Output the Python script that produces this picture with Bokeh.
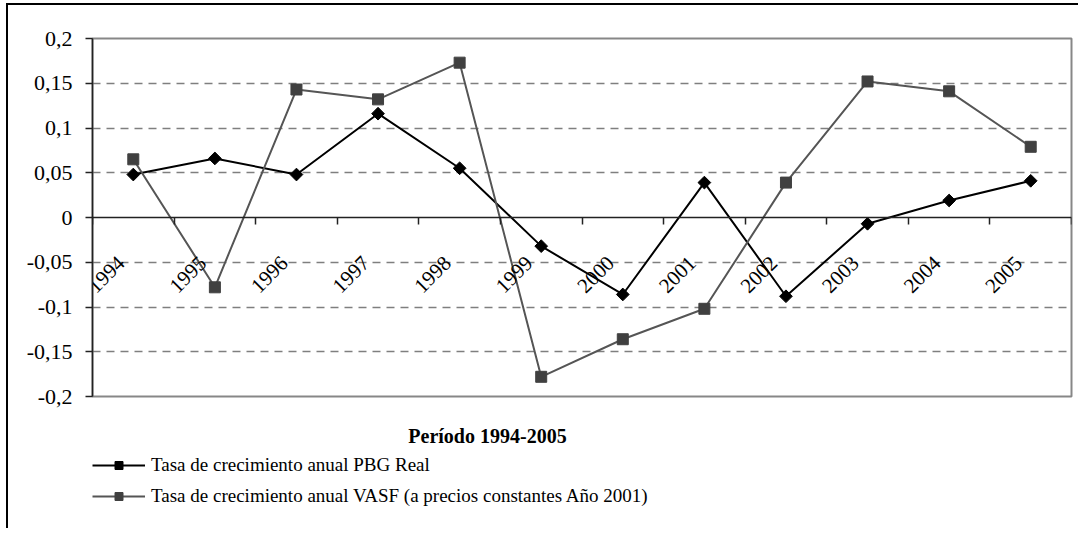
import math
from bokeh.plotting import figure
from bokeh.layouts import column
from bokeh.models import (Range1d, FixedTicker, CustomJSTickFormatter, Legend,
                          LegendItem, Label)
from bokeh.embed import file_html
from bokeh.resources import INLINE

# ---- data ----
years = ["1994", "1995", "1996", "1997", "1998", "1999",
         "2000", "2001", "2002", "2003", "2004", "2005"]
pbg_real = [0.048, 0.066, 0.048, 0.116, 0.055, -0.032,
            -0.086, 0.039, -0.088, -0.007, 0.019, 0.041]
vasf = [0.065, -0.078, 0.143, 0.132, 0.173, -0.178,
        -0.136, -0.102, 0.039, 0.152, 0.141, 0.079]
y_ticks = [-0.2, -0.15, -0.1, -0.05, 0.0, 0.05, 0.1, 0.15, 0.2]
grid_ticks = [-0.15, -0.1, -0.05, 0.05, 0.1, 0.15]
label_pbg = "Tasa de crecimiento anual PBG Real"
label_vasf = "Tasa de crecimiento anual VASF (a precios constantes Año 2001)"
x_title = "Período 1994-2005"

FONT = "Liberation Serif"
n = len(years)
xs = list(range(n))

# ---------------- main chart ----------------
p = figure(width=1070, height=407, output_backend="svg", toolbar_location=None,
           x_range=Range1d(-0.5, n - 0.5), y_range=Range1d(y_ticks[0], y_ticks[-1]),
           min_border_left=84, min_border_right=7, min_border_top=33,
           min_border_bottom=16)
p.background_fill_color = "white"
p.border_fill_color = "white"
p.outline_line_color = "#878787"
p.outline_line_width = 2

p.xgrid.visible = False
p.ygrid.ticker = FixedTicker(ticks=grid_ticks)
p.ygrid.grid_line_color = "#7f7f7f"
p.ygrid.grid_line_dash = "8 6"
p.ygrid.grid_line_width = 1.3

yax = p.yaxis[0]
yax.ticker = FixedTicker(ticks=y_ticks)
yax.formatter = CustomJSTickFormatter(
    code="return String(Math.round(tick*100)/100).replace('.', ',');")
yax.major_label_text_font = FONT
yax.major_label_text_font_size = "22px"
yax.major_label_text_color = "black"
yax.axis_line_color = "#222222"
yax.axis_line_width = 1.5
yax.major_tick_line_color = "#222222"
yax.major_tick_line_width = 1.5
yax.major_tick_out = 7
yax.major_tick_in = 0
yax.major_label_standoff = 13
yax.minor_tick_line_color = None

xax = p.xaxis[0]
xax.fixed_location = 0
xax.ticker = FixedTicker(ticks=[i - 0.15 for i in xs],
                         minor_ticks=[i - 0.5 for i in range(n + 1)])
xax.formatter = CustomJSTickFormatter(
    args=dict(labels=years),
    code="const i = Math.round(tick); return (i >= 0 && i < labels.length) ? labels[i] : '';")
xax.major_label_orientation = math.pi / 4
xax.major_label_text_font = FONT
xax.major_label_text_font_size = "21px"
xax.major_label_text_color = "black"
xax.major_tick_out = 0
xax.major_tick_in = 0
xax.major_tick_line_color = None
xax.major_label_standoff = 35
xax.minor_tick_out = 7
xax.minor_tick_in = 0
xax.minor_tick_line_color = "#222222"
xax.minor_tick_line_width = 1.5
xax.axis_line_color = "#222222"
xax.axis_line_width = 1.5

PBG_STYLE = dict(line_color="black", line_width=2)
PBG_MARK = dict(marker="square", angle=math.pi / 4, size=9,
                fill_color="black", line_color="black")
VASF_STYLE = dict(line_color="#555555", line_width=2)
VASF_MARK = dict(marker="square", size=11, fill_color="#404040", line_color="#404040")

p.line(xs, pbg_real, **PBG_STYLE)
p.scatter(xs, pbg_real, **PBG_MARK)
p.line(xs, vasf, **VASF_STYLE)
p.scatter(xs, vasf, **VASF_MARK)

# ---------------- legend / title strip ----------------
p2 = figure(width=1070, height=116, output_backend="svg", toolbar_location=None,
            x_axis_type=None, y_axis_type=None,
            x_range=Range1d(1000, 1001), y_range=Range1d(1000, 1001),
            min_border=0)
p2.outline_line_color = None
p2.background_fill_color = "white"
p2.border_fill_color = "white"
p2.grid.visible = False

l1 = p2.line(xs, pbg_real, **PBG_STYLE)
s1 = p2.scatter(xs, pbg_real, **PBG_MARK)
l2 = p2.line(xs, vasf, **VASF_STYLE)
s2 = p2.scatter(xs, vasf, **VASF_MARK)

p2.add_layout(Label(text=x_title, x=395, y=93, x_units="screen", y_units="screen",
                    text_align="center", text_baseline="middle", text_font=FONT,
                    text_font_size="20px", text_font_style="bold",
                    text_color="black"))

legend = Legend(items=[LegendItem(label=label_pbg, renderers=[l1, s1]),
                       LegendItem(label=label_vasf, renderers=[l2, s2])],
                location=(0, 21), orientation="vertical", margin=0, padding=5,
                border_line_color=None, background_fill_alpha=0,
                label_text_font=FONT, label_text_font_size="19px",
                label_text_color="black",
                glyph_width=53, glyph_height=20, label_height=20,
                label_standoff=6, spacing=9)
p2.add_layout(legend)

layout = column(p, p2, styles={"border-left": "2px solid black",
                               "border-top": "2px solid black",
                               "margin-left": "6px", "margin-top": "3px"})

open("out.html", "w").write(file_html(layout, INLINE))
